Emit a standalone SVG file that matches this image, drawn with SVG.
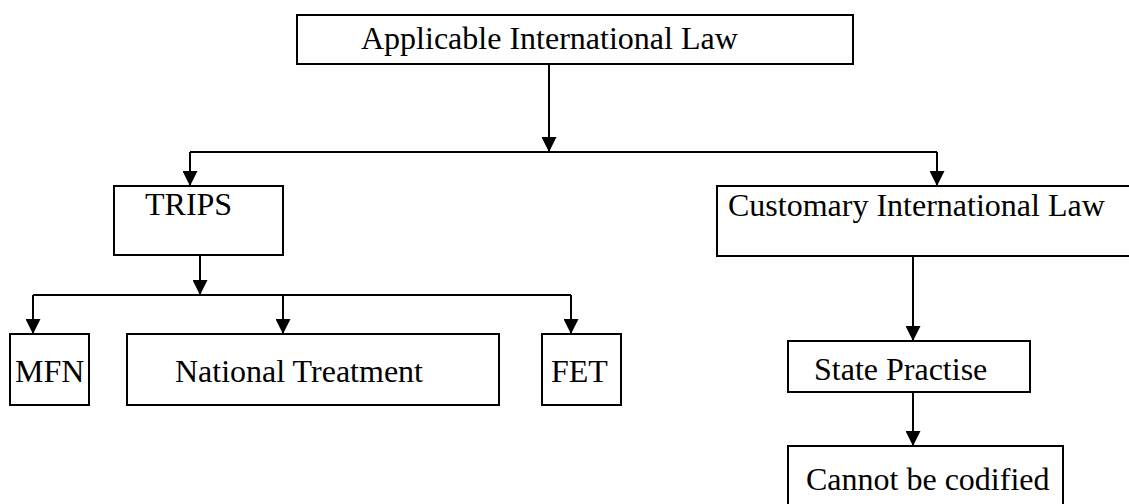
<svg xmlns="http://www.w3.org/2000/svg" width="1129" height="504" viewBox="0 0 1129 504">
  <style>
    .box { fill: #ffffff; stroke: #000000; stroke-width: 2; }
    .lbl { font-family: "Liberation Serif", "Times New Roman", serif; font-size: 32px; fill: #000000; }
    .ln { fill: none; stroke: #000000; stroke-width: 2; }
    .ar { fill: none; stroke: #000000; stroke-width: 2; marker-end: url(#arrow); }
  </style>
  <defs>
    <marker id="arrow" markerUnits="userSpaceOnUse" markerWidth="15" markerHeight="15" viewBox="0 0 15 15" refX="15" refY="7.5" orient="auto">
      <path d="M0,0 L15,7.5 L0,15 z" fill="#000000"/>
    </marker>
  </defs>
  <rect x="0" y="0" width="1129" height="504" fill="#ffffff"/>

  <g id="connectors">
    <path class="ar" d="M549,64 V152"/>
    <path class="ln" d="M190,152 H937"/>
    <path class="ar" d="M190,152 V186"/>
    <path class="ar" d="M937,152 V186"/>
    <path class="ar" d="M200,255 V295"/>
    <path class="ln" d="M33,295 H571"/>
    <path class="ar" d="M33,295 V334"/>
    <path class="ar" d="M283,295 V334"/>
    <path class="ar" d="M571,295 V334"/>
    <path class="ar" d="M913,256 V341"/>
    <path class="ar" d="M913,392 V446"/>
  </g>

  <g id="node-applicable">
    <rect class="box" x="297" y="15" width="556" height="49"/>
    <text class="lbl" x="361" y="49">Applicable International Law</text>
  </g>
  <g id="node-trips">
    <rect class="box" x="114" y="186" width="169" height="69"/>
    <text class="lbl" x="145" y="215">TRIPS</text>
  </g>
  <g id="node-customary">
    <rect class="box" x="717" y="186" width="420" height="70"/>
    <text class="lbl" x="728" y="216">Customary International Law</text>
  </g>
  <g id="node-mfn">
    <rect class="box" x="10" y="334" width="79" height="71"/>
    <text class="lbl" x="15" y="382">MFN</text>
  </g>
  <g id="node-national">
    <rect class="box" x="127" y="334" width="372" height="71"/>
    <text class="lbl" x="175" y="382">National Treatment</text>
  </g>
  <g id="node-fet">
    <rect class="box" x="542" y="334" width="79" height="71"/>
    <text class="lbl" x="551" y="382">FET</text>
  </g>
  <g id="node-state">
    <rect class="box" x="788" y="341" width="242" height="51"/>
    <text class="lbl" x="814" y="380">State Practise</text>
  </g>
  <g id="node-cannot">
    <rect class="box" x="788" y="446" width="275" height="70"/>
    <text class="lbl" x="806" y="490">Cannot be codified</text>
  </g>
</svg>
